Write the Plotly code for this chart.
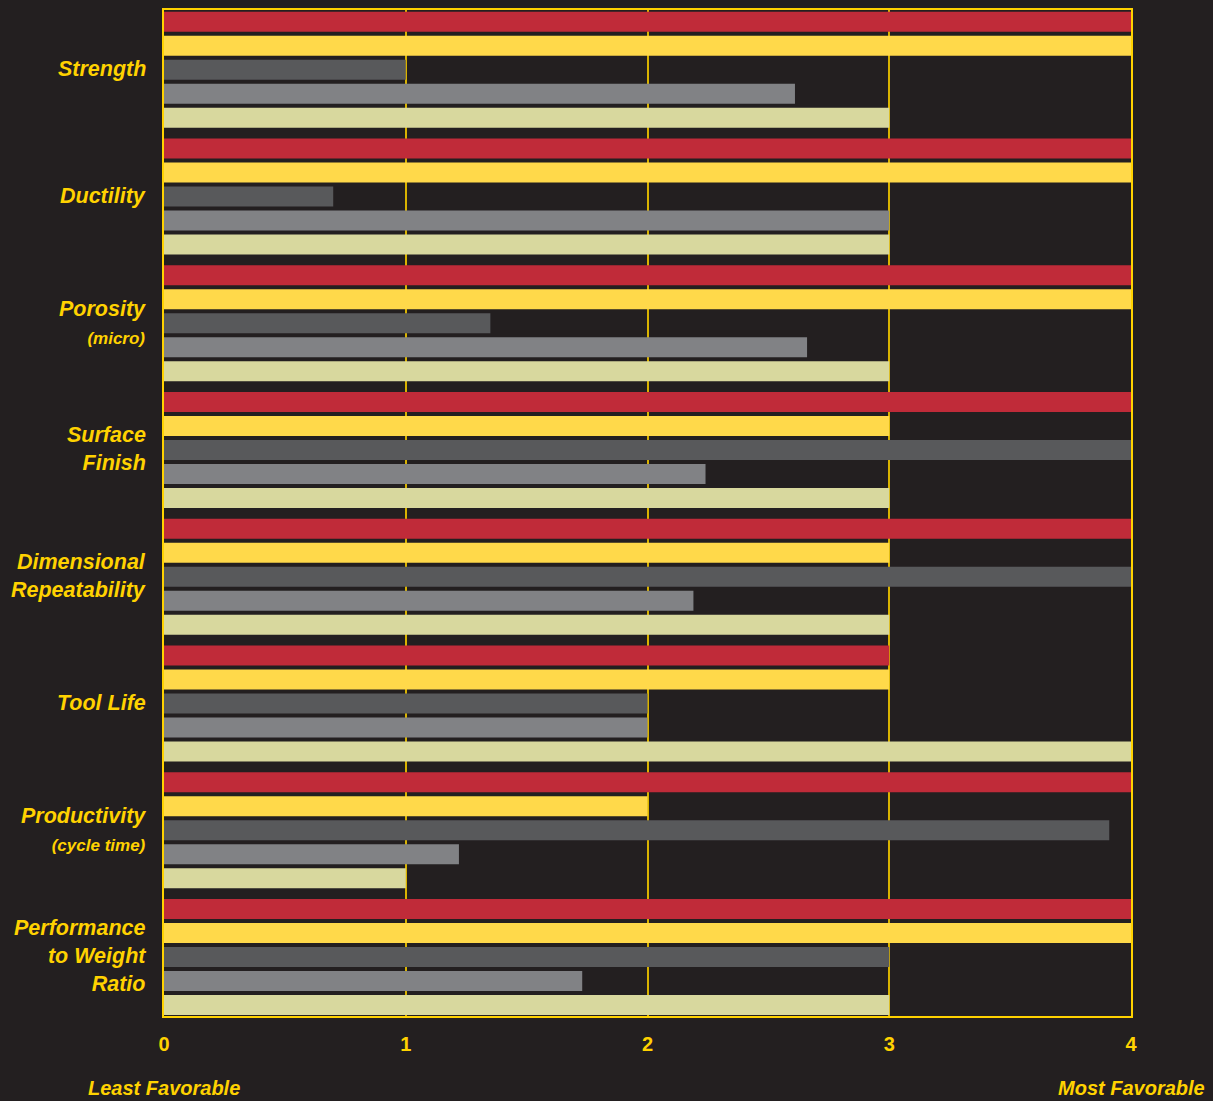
import plotly.graph_objects as go

categories = ["Strength", "Ductility", "Porosity", "Surface Finish", "Dimensional Repeatability",
              "Tool Life", "Productivity", "Performance to Weight Ratio"]
category_labels = [
    "<b><i>Strength</i></b>",
    "<b><i>Ductility</i></b>",
    "<b><i>Porosity</i></b><br><b><i><span style='font-size:17px'>(micro)</span></i></b>",
    "<b><i>Surface</i></b><br><b><i>Finish</i></b>",
    "<b><i>Dimensional</i></b><br><b><i>Repeatability</i></b>",
    "<b><i>Tool Life</i></b>",
    "<b><i>Productivity</i></b><br><b><i><span style='font-size:17px'>(cycle time)</span></i></b>",
    "<b><i>Performance</i></b><br><b><i>to Weight</i></b><br><b><i>Ratio</i></b>",
]

series_names = ["Series A", "Series B", "Series C", "Series D", "Series E"]
series_a = [4, 4, 4, 4, 4, 3, 4, 4]
series_b = [4, 4, 4, 3, 3, 3, 2, 4]
series_c = [1, 0.7, 1.35, 4, 4, 2, 3.91, 3]
series_d = [2.61, 3, 2.66, 2.24, 2.19, 2, 1.22, 1.73]
series_e = [3, 3, 3, 3, 3, 4, 1, 3]

tick_vals = [0, 1, 2, 3, 4]
tick_text = ["0", "1", "2", "3", "4"]

colors = ["#c02b39", "#ffd94a", "#58595b", "#818285", "#d8d89e"]
all_series = [series_a, series_b, series_c, series_d, series_e]

YEL = "#ffd200"
BG = "#231f20"

fig = go.Figure()
for name, vals, col in zip(series_names, all_series, colors):
    fig.add_trace(go.Bar(
        y=categories, x=vals, orientation="h", name=name,
        marker=dict(color=col, line=dict(width=0)),
        hoverinfo="x+y",
    ))

fig.update_layout(
    width=1213, height=1101,
    paper_bgcolor=BG, plot_bgcolor=BG,
    margin=dict(l=164, r=82, t=8, b=85),
    barmode="group", bargap=0.053, bargroupgap=0.167,
    showlegend=False,
    font=dict(family="Liberation Sans, Arial, sans-serif", color=YEL),
)
fig.update_xaxes(
    range=[0, 4], tickvals=tick_vals, ticktext=["<b>%s</b>" % t for t in tick_text],
    tickfont=dict(size=20, color=YEL),
    showgrid=True, gridcolor="#d9b300", gridwidth=1.5,
    zeroline=False, showline=True, linecolor=YEL, linewidth=2, mirror=True,
    ticks="", ticklabelstandoff=9,
)
fig.update_yaxes(
    categoryorder="array", categoryarray=categories,
    range=[7.465, -0.472],
    showticklabels=False,
    showgrid=False, zeroline=False,
    showline=True, linecolor=YEL, linewidth=2, mirror=True,
    ticks="",
)

for cat, lab in zip(categories, category_labels):
    fig.add_annotation(x=0, xref="paper", y=cat, yref="y", xanchor="right", yanchor="middle",
                       xshift=-16, yshift=1, align="right", text=lab, showarrow=False,
                       font=dict(size=21.5, color=YEL))

fig.add_annotation(x=0, xref="x", y=-0.0714, yref="paper", yanchor="middle", xanchor="center",
                   text="<b><i>Least Favorable</i></b>", showarrow=False,
                   font=dict(size=20, color=YEL))
fig.add_annotation(x=4, xref="x", y=-0.0714, yref="paper", yanchor="middle", xanchor="center",
                   text="<b><i>Most Favorable</i></b>", showarrow=False,
                   font=dict(size=20, color=YEL))

fig.write_html("out.html")
